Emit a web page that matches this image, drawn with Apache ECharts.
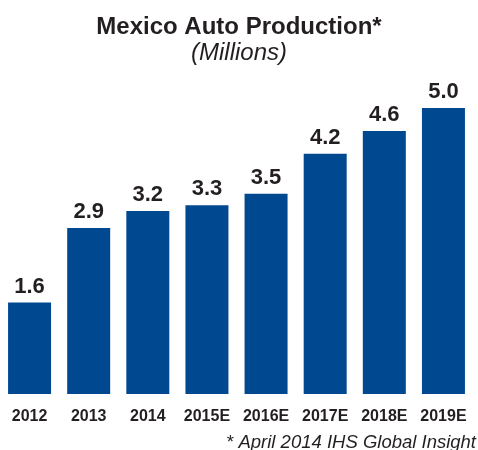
<!DOCTYPE html>
<html><head><meta charset="utf-8">
<script src="https://cdn.jsdelivr.net/npm/echarts@6/dist/echarts.min.js"></script>
<style>html,body{margin:0;padding:0;background:#fff}#c{width:478px;height:450px}</style>
</head><body><div id="c"></div>
<script>
const categories = ['2012','2013','2014','2015E','2016E','2017E','2018E','2019E'];
const production = [1.6, 2.9, 3.2, 3.3, 3.5, 4.2, 4.6, 5.0];
const titleText = 'Mexico Auto Production*';
const subtitleText = '(Millions)';
const footnote = '* April 2014 IHS Global Insight';

const chart = echarts.init(document.getElementById('c'));
const font = '"Liberation Sans", Arial, sans-serif';
chart.setOption({
  backgroundColor: '#fff',
  title: [
    {text: titleText, left: 'center', top: 15, padding: 0, textStyle: {fontFamily: font, fontSize: 24, fontWeight: 'bold', color: '#231f20'}},
    {text: subtitleText, left: 'center', top: 41, padding: 0, textStyle: {fontFamily: font, fontSize: 24, fontWeight: 'normal', fontStyle: 'italic', color: '#231f20'}},
    {text: footnote, right: 2, top: 433, padding: 0, textStyle: {fontFamily: font, fontSize: 18.5, fontWeight: 'normal', fontStyle: 'italic', color: '#231f20'}}
  ],
  grid: {left: -1, right: 5, top: 108, bottom: 56, containLabel: false},
  xAxis: {
    type: 'category', data: categories,
    axisLine: {show: false}, axisTick: {show: false},
    axisLabel: {fontFamily: font, fontSize: 16, fontWeight: 'bold', color: '#231f20', margin: 15, interval: 0}
  },
  yAxis: {type: 'value', min: 0, max: 5, show: false, splitLine: {show: false}},
  series: [{
    type: 'bar', data: production, barWidth: 43,
    itemStyle: {color: '#004990'},
    label: {show: true, position: 'top', distance: 5, formatter: p => p.value.toFixed(1),
      fontFamily: font, fontSize: 22, fontWeight: 'bold', color: '#231f20'},
    animation: false
  }],
  animation: false
});
</script></body></html>
